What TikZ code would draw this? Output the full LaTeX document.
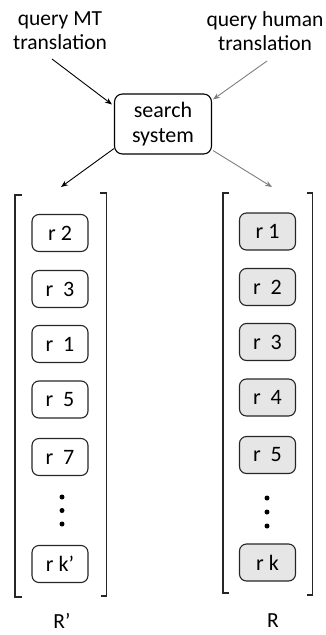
\documentclass[tikz,border=0pt]{standalone}
\usepackage{fontspec}
\setmainfont{Carlito}
\usetikzlibrary{arrows.meta}
\definecolor{boxgray}{HTML}{E7E6E6}
\definecolor{arrgray}{HTML}{7F7F7F}
\begin{document}
\begin{tikzpicture}[x=1pt,y=-1pt,
  txt/.style={align=center,inner sep=0pt,font=\fontsize{21.5}{24}\selectfont},
  rbox/.style={draw=black!85,line width=1.1pt,rounded corners=7pt,minimum width=56pt,minimum height=37pt,inner sep=0pt,font=\fontsize{22}{24}\selectfont},
  gbox/.style={rbox,fill=boxgray},
  arr/.style={-{Stealth[length=7pt,width=5.5pt]},line width=0.9pt},
  brk/.style={line width=1.1pt,draw=black!85},
  dot/.style={circle,fill=black,inner sep=0pt,minimum size=5pt}]
\useasboundingbox (0,0) rectangle (326,635);
% top texts
\node[txt] (mt) at (60,31) {query MT\\translation};
\node[txt] (hu) at (265,31) {query human\\translation};
% search system
\node[draw=black,line width=1.1pt,rounded corners=8pt,minimum width=97pt,minimum height=60pt,align=center,inner sep=0pt,font=\fontsize{22}{25}\selectfont] (ss) at (163,124) {search\\system};
% anchors for arrows
\coordinate (a1) at (52,59);
\coordinate (a2) at (267,61);
\draw[arr,black] (a1) -- ([shift={(-2,11)}]ss.north west);
\draw[arr,arrgray] (a2) -- ([shift={(1,6)}]ss.north east);
% left list
\node[rbox] (l1) at (60,233) {r 2};
\node[rbox] (l2) at (60,289) {r\ \ 3};
\node[rbox] (l3) at (60,344) {r\ \ 1};
\node[rbox] (l4) at (60,399.5) {r\ \ 5};
\node[rbox] (l5) at (60,457) {r\ \ 7};
\node[dot] (ld1) at (62,497) {};
\node[dot] (ld2) at (62,510.5) {};
\node[dot] (ld3) at (62,524) {};
\node[rbox] (l6) at (60,564) {r k’};
% right list
\node[gbox] (r1) at (267.5,231.5) {r 1};
\node[gbox] (r2) at (267.5,287) {r\ \ 2};
\node[gbox] (r3) at (267.5,342) {r\ \ 3};
\node[gbox] (r4) at (267.5,397.5) {r\ \ 4};
\node[gbox] (r5) at (267.5,455) {r\ \ 5};
\node[dot] (rd1) at (267,498) {};
\node[dot] (rd2) at (267,512) {};
\node[dot] (rd3) at (267,526) {};
\node[gbox] (r6) at (267.5,562.5) {r k};
% brackets
\draw[brk] (22,195) -- (15,195) -- (15,597) -- (22,597);
\draw[brk] (100,193) -- (106.5,193) -- (106.5,596) -- (101,596);
\draw[brk] (229,193) -- (223,193) -- (223,593) -- (229,593);
\draw[brk] (307,193) -- (312.5,193) -- (312.5,595) -- (307,595);
\coordinate (lt) at (61,187);
\coordinate (rt) at (272,187);
\draw[arr,black] ([shift={(0,-6)}]ss.south west) -- (lt);
\draw[arr,arrgray] ([shift={(1,-4)}]ss.south east) -- (rt);
% labels
\node[txt] (lab1) at (62,621) {R’};
\node[txt] (lab2) at (273,621) {R};
\end{tikzpicture}
\end{document}
